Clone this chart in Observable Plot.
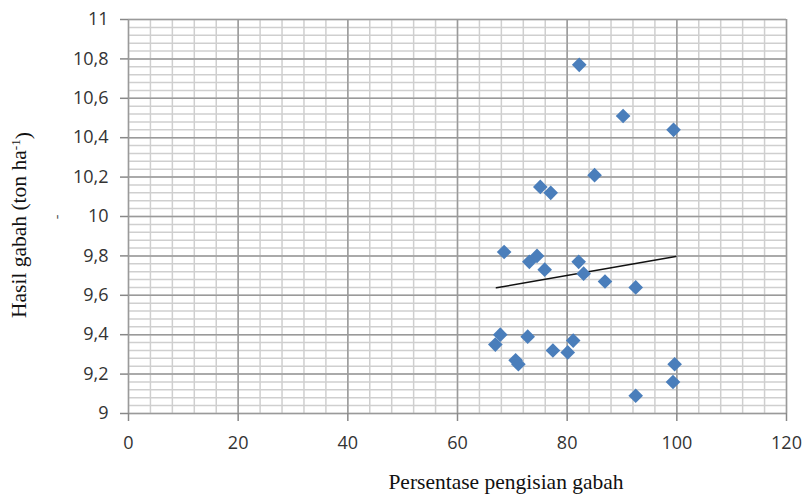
<!DOCTYPE html>
<html><head><meta charset="utf-8">
<script src="https://cdn.jsdelivr.net/npm/d3@7"></script>
<script src="https://cdn.jsdelivr.net/npm/@observablehq/plot@0.6"></script>
<style>body{margin:0;background:#fff}</style>
</head><body><div id="chart"></div>
<script>
// Data
const fillPct = [82.2, 90.2, 99.4, 85.0, 75.1, 77.0, 68.5, 73.1, 74.5, 75.9, 82.1, 83.0, 86.9, 92.5,
                 67.8, 66.9, 72.8, 70.6, 71.1, 77.4, 80.1, 81.1, 99.6, 99.3, 92.5];
const yieldT  = [10.77, 10.51, 10.44, 10.21, 10.15, 10.12, 9.82, 9.77, 9.80, 9.73, 9.77, 9.71, 9.67, 9.64,
                 9.40, 9.35, 9.39, 9.27, 9.25, 9.32, 9.31, 9.37, 9.25, 9.16, 9.09];
const trendX = [67.1, 99.8];
const trendY = [9.638, 9.797];
const xTicks = [0, 20, 40, 60, 80, 100, 120];
const yTicks = [9, 9.2, 9.4, 9.6, 9.8, 10, 10.2, 10.4, 10.6, 10.8, 11];
const yTickLabels = ["9", "9,2", "9,4", "9,6", "9,8", "10", "10,2", "10,4", "10,6", "10,8", "11"];
const xTitle = "Persentase pengisian gabah";
const yTitleMain = "Hasil gabah (ton ha";
const yTitleSup = "-1";
const yTitleEnd = ")";

const xMinor = d3.range(0, 120.001, 4);
const yMinor = d3.range(0, 51).map(i => 9 + i * 0.04);

const points = fillPct.map((x, i) => ({x, y: yieldT[i]}));
const trend = trendX.map((x, i) => ({x, y: trendY[i]}));

const chart = Plot.plot({
  width: 803, height: 494,
  marginLeft: 128, marginRight: 17, marginTop: 19, marginBottom: 81,
  style: {fontFamily: "'Open Sans', sans-serif", background: "#fff", color: "#333"},
  x: {domain: [0, 120]},
  y: {domain: [9, 11]},
  marks: [
    Plot.ruleX(xMinor, {stroke: "#cfcfcf", strokeWidth: 1.5}),
    Plot.ruleY(yMinor, {stroke: "#cfcfcf", strokeWidth: 1.5}),
    Plot.ruleX(xTicks, {stroke: "#9a9a9a", strokeWidth: 1.5}),
    Plot.ruleY(yTicks, {stroke: "#9a9a9a", strokeWidth: 1.5}),
    Plot.axisX(xTicks, {tickSize: 8, tickPadding: 15, fontSize: 18, stroke: "#888", fill: "#333", label: null, strokeWidth: 1.5}),
    Plot.axisY(yTicks, {tickSize: 8, tickPadding: 12, fontSize: 18, stroke: "#888", fill: "#333", label: null, strokeWidth: 1.5,
      tickFormat: d => yTickLabels[yTicks.indexOf(d)]}),
    Plot.line(trend, {x: "x", y: "y", stroke: "#111", strokeWidth: 1.6}),
    Plot.dot(points, {x: "x", y: "y", symbol: "diamond2", r: 6.6, fill: "#4a7ebb", stroke: "none"})
  ]
});

const svg = d3.select(chart);
const xs = chart.scale("x"), ys = chart.scale("y");
// x axis title
svg.append("text")
  .attr("x", 506).attr("y", 489)
  .attr("text-anchor", "middle")
  .attr("font-family", "'Liberation Serif', 'Times New Roman', serif")
  .attr("font-size", 21.5).attr("fill", "#111")
  .text(xTitle);
// y axis title
const yt = svg.append("text")
  .attr("transform", "translate(26,225) rotate(-90)")
  .attr("text-anchor", "middle")
  .attr("font-family", "'Liberation Serif', 'Times New Roman', serif")
  .attr("font-size", 21.5).attr("fill", "#111");
yt.append("tspan").text(yTitleMain);
yt.append("tspan").attr("dy", "-0.45em").attr("font-size", "0.62em").text(yTitleSup);
yt.append("tspan").attr("dy", "0.45em").text(yTitleEnd);
// small stray dash
svg.append("text")
  .attr("transform", "translate(61,217) rotate(-90)")
  .attr("text-anchor", "middle")
  .attr("font-family", "'Liberation Serif', serif")
  .attr("font-size", 14).attr("fill", "#555")
  .text("-");

document.getElementById("chart").appendChild(chart);
</script>
</body></html>
